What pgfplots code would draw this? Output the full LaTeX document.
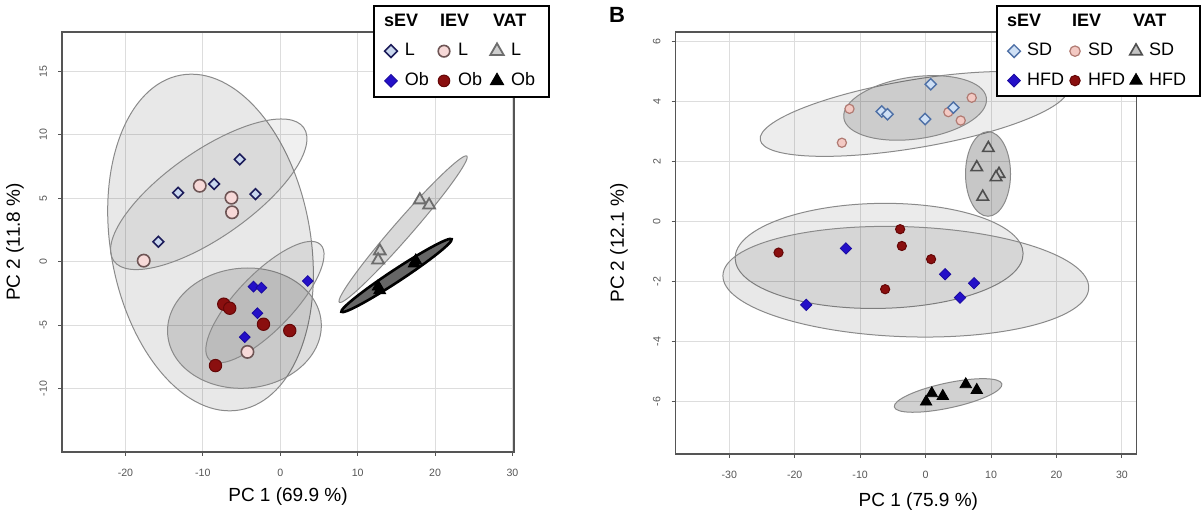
\documentclass[border=0pt]{standalone}
\usepackage{pgfplots}
\pgfplotsset{compat=1.18}
\usepackage{fontspec}
\setmainfont{Liberation Sans}

\definecolor{boxc}{HTML}{555555}
\definecolor{gridc}{HTML}{DDDDDD}
\definecolor{tickc}{HTML}{555555}
\definecolor{ellc}{HTML}{8A8A8A}
\definecolor{sevLf}{HTML}{C9D7EE}
\definecolor{sevLd}{HTML}{1C1C5A}
\definecolor{sevOf}{HTML}{2410C8}
\definecolor{sevOd}{HTML}{1A0AA0}
\definecolor{ievLf}{HTML}{F7D9D8}
\definecolor{ievLd}{HTML}{6E5555}
\definecolor{ievOf}{HTML}{8A0F0F}
\definecolor{ievOd}{HTML}{640707}
\definecolor{vatLf}{HTML}{CFCFCF}
\definecolor{vatLd}{HTML}{6D6D6D}
\definecolor{sevSDf}{HTML}{CFE0F5}
\definecolor{sevSDd}{HTML}{4E70A6}
\definecolor{ievSDf}{HTML}{F3C9C3}
\definecolor{ievSDd}{HTML}{B07A72}
\definecolor{vatSDf}{HTML}{C4C4C4}
\definecolor{vatSDd}{HTML}{4F4F4F}

\tikzset{
 sevL/.style={mark=square*, mark size=1.9pt, mark options={rotate=45, fill=sevLf, draw=sevLd, line width=0.8pt}},
 sevO/.style={mark=square*, mark size=1.9pt, mark options={rotate=45, fill=sevOf, draw=sevOd, line width=0.4pt}},
 ievL/.style={mark=*, mark size=3.1pt, mark options={fill=ievLf, draw=ievLd, line width=0.8pt}},
 ievO/.style={mark=*, mark size=3.1pt, mark options={fill=ievOf, draw=ievOd, line width=0.5pt}},
 vatL/.style={mark=triangle*, mark size=3.4pt, mark options={fill=vatLf, draw=vatLd, line width=0.9pt}},
 vatO/.style={mark=triangle*, mark size=3.4pt, mark options={fill=black, draw=black, line width=0.4pt}},
 sevSD/.style={mark=square*, mark size=2.0pt, mark options={rotate=45, fill=sevSDf, draw=sevSDd, line width=0.7pt}},
 sevHFD/.style={mark=square*, mark size=2.0pt, mark options={rotate=45, fill=sevOf, draw=sevOd, line width=0.4pt}},
 ievSD/.style={mark=*, mark size=2.3pt, mark options={fill=ievSDf, draw=ievSDd, line width=0.6pt}},
 ievHFD/.style={mark=*, mark size=2.3pt, mark options={fill=ievOf, draw=ievOd, line width=0.5pt}},
 vatSD/.style={mark=triangle*, mark size=3.3pt, mark options={fill=vatSDf, draw=vatSDd, line width=0.8pt}},
 vatHFD/.style={mark=triangle*, mark size=3.3pt, mark options={fill=black, draw=black, line width=0.4pt}},
 ell/.style={draw=ellc, line width=0.5pt, fill=black, fill opacity=#1},
}

\pgfplotsset{
 pca/.style={
  scale only axis,
  axis line style={draw=boxc, line width=0.8pt},
  grid=major,
  major grid style={draw=gridc, line width=0.5pt},
  tick align=outside,
  major tick length=2pt,
  tick style={draw=boxc, line width=0.5pt},
  xtick pos=lower, ytick pos=left,
  ticklabel style={font=\fontsize{5.3}{6}\selectfont, text=tickc},
  /pgf/number format/assume math mode=true,
  yticklabel style={rotate=90, anchor=south},
  xticklabel shift=3pt,
  yticklabel shift=2pt,
  label style={font=\fontsize{9.5}{11}\selectfont},
  legend cell align=left,
  legend columns=3,
  legend style={draw=black, line width=1pt, fill=white,
    font=\fontsize{9}{10}\selectfont, inner ysep=2pt,
    row sep=3pt},
 },
}

\begin{document}
\begin{tikzpicture}
\begin{axis}[pca,
  at={(31pt,32.5pt)}, anchor=south west,
  width=226pt, height=210pt,
  xmin=-28.2, xmax=30.2, ymin=-15, ymax=18.1,
  xtick={-20,-10,0,10,20,30}, ytick={-10,-5,0,5,10,15},
  xlabel={PC 1 (69.9 \%)}, ylabel={PC 2 (11.8 \%)},
  xlabel style={at={(axis description cs:0.5,-0.107)}, anchor=center},
  ylabel style={at={(axis description cs:-0.104,0.5)}, anchor=center},
  legend image code/.code={\draw[#1] plot coordinates {(0pt,0pt)}; \path[draw=none,fill=none] (-3.5pt,-3pt) rectangle (5pt,3pt);},
  legend style={at={(0.688,1.064)}, anchor=north west, inner xsep=5pt,
    /tikz/every even column/.append style={column sep=2pt}},
]
\draw[ell=0.09] (axis cs:-9.01,1.51) ellipse [x radius=50pt, y radius=85pt, rotate=10];
\draw[ell=0.06] (axis cs:-9.24,5.31) ellipse [x radius=58pt, y radius=21.5pt, rotate=35];
\draw[ell=0.13] (axis cs:-4.63,-5.24) ellipse [x radius=38.5pt, y radius=30pt, rotate=5];
\draw[ell=0.07] (axis cs:-1.98,-3.19) ellipse [x radius=40pt, y radius=14pt, rotate=46];
\draw[ell=0.15] (axis cs:15.87,2.56) ellipse [x radius=48.5pt, y radius=4.5pt, rotate=48.9];
\draw[draw=black, line width=1.3pt, fill=black!60] (axis cs:15.02,-1.09) ellipse [x radius=33pt, y radius=3pt, rotate=33.4];

\addplot[only marks, sevL, forget plot] coordinates {(-5.23,8.06) (-13.21,5.43) (-8.56,6.12) (-3.20,5.33) (-15.74,1.57)};
\addplot[only marks, ievL, forget plot] coordinates {(-10.40,5.98) (-6.31,5.04) (-6.23,3.89) (-17.64,0.08) (-4.24,-7.11)};
\addplot[only marks, sevO, forget plot] coordinates {(-3.46,-1.97) (-2.43,-2.05) (3.55,-1.52) (-2.95,-4.06) (-4.59,-5.95)};
\addplot[only marks, ievO, forget plot] coordinates {(-7.30,-3.35) (-6.53,-3.67) (-2.17,-4.93) (1.23,-5.43) (-8.37,-8.19)};
\addplot[only marks, vatL, forget plot] coordinates {(18.03,4.86) (19.23,4.46) (12.86,0.84) (12.64,0.13)};
\addplot[only marks, vatO, forget plot] coordinates {(17.51,0.08) (17.30,-0.15) (12.64,-1.97) (12.85,-2.25)};

\addlegendimage{empty legend}\addlegendentry{\hspace*{-10.4pt}\textbf{sEV}}
\addlegendimage{empty legend}\addlegendentry{\hspace*{-9pt}\textbf{IEV}}
\addlegendimage{empty legend}\addlegendentry{\hspace*{-9pt}\textbf{VAT}}
\addlegendimage{sevL, mark size=2.25pt}\addlegendentry{L}
\addlegendimage{ievL, mark size=2.9pt}\addlegendentry{L}
\addlegendimage{vatL, mark size=3.9pt}\addlegendentry{L}
\addlegendimage{sevO, mark size=2.25pt}\addlegendentry{Ob}
\addlegendimage{ievO, mark size=2.9pt}\addlegendentry{Ob}
\addlegendimage{vatO, mark size=3.9pt}\addlegendentry{Ob}
\end{axis}

\begin{axis}[pca,
  at={(337.8pt,31.5pt)}, anchor=south west,
  width=230.35pt, height=211pt,
  xmin=-38.2, xmax=32.2, ymin=-7.74, ymax=6.32,
  xtick={-30,-20,-10,0,10,20,30}, ytick={-6,-4,-2,0,2,4,6},
  xlabel={PC 1 (75.9 \%)}, ylabel={PC 2 (12.1 \%)},
  xlabel style={at={(axis description cs:0.527,-0.113)}, anchor=center},
  ylabel style={at={(axis description cs:-0.123,0.5)}, anchor=center},
  legend image code/.code={\draw[#1] plot coordinates {(0pt,0pt)}; \path[draw=none,fill=none] (-3.5pt,-3pt) rectangle (4.5pt,3pt);},
  legend style={at={(0.6955,1.064)}, anchor=north west, inner xsep=5pt,
    /tikz/every even column/.append style={column sep=0pt}},
]
\draw[ell=0.07] (axis cs:-1.76,3.59) ellipse [x radius=78pt, y radius=17pt, rotate=9.6];
\draw[ell=0.14] (axis cs:-1.60,3.79) ellipse [x radius=36pt, y radius=15.5pt, rotate=8];
\draw[ell=0.22] (axis cs:9.54,1.59) ellipse [x radius=11.25pt, y radius=21.15pt, rotate=0];
\draw[ell=0.08] (axis cs:-7.10,-1.14) ellipse [x radius=72pt, y radius=26.25pt, rotate=1];
\draw[ell=0.09] (axis cs:-3.02,-2.00) ellipse [x radius=91.5pt, y radius=27.5pt, rotate=-2];
\draw[ell=0.18] (axis cs:3.44,-5.79) ellipse [x radius=27.5pt, y radius=6.25pt, rotate=12.1];

\addplot[only marks, ievSD, forget plot] coordinates {(-11.63,3.76) (-12.79,2.63) (7.05,4.13) (3.48,3.65) (5.37,3.37)};
\addplot[only marks, sevSD, forget plot] coordinates {(0.79,4.58) (-6.69,3.67) (-5.83,3.58) (-0.08,3.42) (4.24,3.80)};
\addplot[only marks, vatSD, forget plot] coordinates {(9.59,2.45) (7.82,1.81) (11.22,1.59) (10.76,1.48) (8.73,0.83)};
\addplot[only marks, sevHFD, forget plot] coordinates {(-12.18,-0.89) (2.98,-1.75) (7.40,-2.05) (5.27,-2.53) (-18.24,-2.77)};
\addplot[only marks, ievHFD, forget plot] coordinates {(-3.89,-0.25) (-3.63,-0.81) (0.84,-1.25) (-6.18,-2.25) (-22.47,-1.03)};
\addplot[only marks, vatHFD, forget plot] coordinates {(6.14,-5.42) (7.82,-5.61) (2.63,-5.81) (0.95,-5.72) (0.08,-6.00)};

\addlegendimage{empty legend}\addlegendentry{\hspace*{-10pt}\textbf{sEV}}
\addlegendimage{empty legend}\addlegendentry{\hspace*{-8pt}\textbf{IEV}}
\addlegendimage{empty legend}\addlegendentry{\hspace*{-8pt}\textbf{VAT}}
\addlegendimage{sevSD, mark size=2.25pt}\addlegendentry{SD}
\addlegendimage{ievSD, mark size=2.6pt}\addlegendentry{SD}
\addlegendimage{vatSD, mark size=3.6pt}\addlegendentry{SD}
\addlegendimage{sevHFD, mark size=2.25pt}\addlegendentry{HFD}
\addlegendimage{ievHFD, mark size=2.6pt}\addlegendentry{HFD}
\addlegendimage{vatHFD, mark size=3.6pt}\addlegendentry{HFD}
\end{axis}

\node[font=\bfseries\fontsize{11}{13}\selectfont] at (308.5pt,251pt) {B};
\pgfresetboundingbox
\useasboundingbox (0pt,0pt) rectangle (601pt,258.5pt);
\end{tikzpicture}
\end{document}
